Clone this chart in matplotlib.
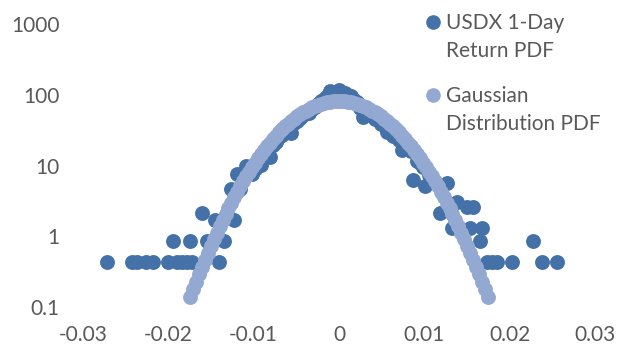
import matplotlib
matplotlib.use('Agg')
import matplotlib.pyplot as plt
import matplotlib.ticker as mticker
from matplotlib.lines import Line2D

plt.rcParams.update({
    'font.family': ['Lato', 'DejaVu Sans'],
    'font.size': 15,
    'text.color': '#595959',
    'xtick.color': '#595959',
    'ytick.color': '#595959',
})

DARK = '#4472a8'
LIGHT = '#93a9d1'

# Empirical PDF of daily USDX returns (tails are single/double counts)
usdx_x = [
    -0.0272, -0.0243, -0.0237, -0.0226, -0.0218, -0.0200, -0.0195, -0.0190,
    -0.0184, -0.0178, -0.0175, -0.0172, -0.0160, -0.0155, -0.0145, -0.0141,
    -0.0135, -0.0126, -0.01225,
    -0.0119, -0.01155, -0.0112, -0.01085, -0.0105, -0.01015, -0.0098, -0.00945,
    -0.0091, -0.00875, -0.0084, -0.00805, -0.0077, -0.00735, -0.0070, -0.00665,
    -0.0063, -0.00595, -0.0056, -0.00525, -0.0049, -0.00455, -0.0042, -0.00385,
    -0.0035, -0.00315, -0.0028, -0.00245, -0.0021, -0.00175, -0.0014, -0.00105,
    -0.0007, -0.00035, 0.0, 0.00035, 0.0007, 0.00105, 0.0014, 0.00175,
    0.0021, 0.00245, 0.0028, 0.00315, 0.0035, 0.00385, 0.0042, 0.00455,
    0.0049, 0.00525, 0.0056, 0.00595, 0.0063, 0.00665, 0.0070, 0.00735,
    0.0077, 0.00805, 0.0084, 0.00868, 0.0091, 0.00945, 0.0098, 0.0101,
    0.0105, 0.01085,
    0.01184, 0.01266, 0.01325, 0.01383, 0.0150, 0.01536, 0.0157, 0.01653,
    0.01676, 0.01735, 0.0179, 0.01852, 0.02028, 0.02274, 0.0238, 0.02556,
]
usdx_pdf = [
    0.43, 0.43, 0.43, 0.43, 0.43, 0.43, 0.86, 0.43,
    0.43, 0.43, 0.86, 0.43, 2.15, 0.86, 1.72, 0.43,
    0.86, 4.73, 1.72,
    7.7, 4.7, 6.9, 9.9, 8.6, 7.7, 9.0, 11.2,
    10.3, 13.8, 15.5, 13.3, 19.8, 21.5, 24.9, 27.1,
    30.5, 33.1, 29.2, 40.4, 43.0, 47.3, 52.0, 55.0,
    54.6, 62.3, 66.7, 74.4, 80.8, 88.5, 97.1, 112.3,
    104.5, 108.2, 115.8, 110.1, 106.7, 98.0, 96.3, 84.1,
    77.8, 64.5, 49.0, 60.2, 55.5, 54.2, 45.6, 47.7,
    38.7, 40.9, 29.7, 34.4, 26.2, 28.0, 23.2, 16.8,
    20.6, 17.2, 15.9, 6.2, 11.6, 10.8, 9.5, 5.2,
    7.3, 6.4,
    2.15, 5.6, 1.3, 3.0, 2.6, 1.3, 2.6, 0.86,
    1.3, 0.43, 0.43, 0.43, 0.43, 0.86, 0.43, 0.43,
]

# Normal PDF with the same mean and standard deviation
gauss_x = [
    -0.0175, -0.01715, -0.0168, -0.01645, -0.0161, -0.01575, -0.0154, -0.01505,
    -0.0147, -0.01435, -0.014, -0.01365, -0.0133, -0.01295, -0.0126, -0.01225,
    -0.0119, -0.01155, -0.0112, -0.01085, -0.0105, -0.01015, -0.0098, -0.00945,
    -0.0091, -0.00875, -0.0084, -0.00805, -0.0077, -0.00735, -0.007, -0.00665,
    -0.0063, -0.00595, -0.0056, -0.00525, -0.0049, -0.00455, -0.0042, -0.00385,
    -0.0035, -0.00315, -0.0028, -0.00245, -0.0021, -0.00175, -0.0014, -0.00105,
    -0.0007, -0.00035, 0.0, 0.00035, 0.0007, 0.00105, 0.0014, 0.00175,
    0.0021, 0.00245, 0.0028, 0.00315, 0.0035, 0.00385, 0.0042, 0.00455,
    0.0049, 0.00525, 0.0056, 0.00595, 0.0063, 0.00665, 0.007, 0.00735,
    0.0077, 0.00805, 0.0084, 0.00875, 0.0091, 0.00945, 0.0098, 0.01015,
    0.0105, 0.01085, 0.0112, 0.01155, 0.0119, 0.01225, 0.0126, 0.01295,
    0.0133, 0.01365, 0.014, 0.01435, 0.0147, 0.01505, 0.0154, 0.01575,
    0.0161, 0.01645, 0.0168, 0.01715, 0.0175,
]
gauss_pdf = [
    0.138, 0.178, 0.228, 0.291, 0.368, 0.465, 0.583, 0.728,
    0.904, 1.117, 1.374, 1.68, 2.05, 2.48, 2.98, 3.58,
    4.26, 5.06, 5.97, 7.01, 8.20, 9.53, 11.02, 12.68,
    14.51, 16.53, 18.73, 21.11, 23.68, 26.43, 29.34, 32.41,
    35.62, 38.94, 42.36, 45.85, 49.37, 52.89, 56.38, 59.78,
    63.07, 66.20, 69.14, 71.84, 74.26, 76.37, 78.14, 79.55,
    80.57, 81.19, 81.40, 81.19, 80.57, 79.55, 78.14, 76.37,
    74.26, 71.84, 69.14, 66.20, 63.07, 59.78, 56.38, 52.89,
    49.37, 45.85, 42.36, 38.94, 35.62, 32.41, 29.34, 26.43,
    23.68, 21.11, 18.73, 16.53, 14.51, 12.68, 11.02, 9.53,
    8.20, 7.01, 5.97, 5.06, 4.26, 3.58, 2.98, 2.48,
    2.05, 1.68, 1.374, 1.117, 0.904, 0.728, 0.583, 0.465,
    0.368, 0.291, 0.228, 0.178, 0.138,
]

legend_labels = ['USDX 1-Day\nReturn PDF', 'Gaussian\nDistribution PDF']

fig = plt.figure(figsize=(6.18, 3.47), dpi=100)
ax = fig.add_axes([83 / 618, 1 - 307 / 347, 512 / 618, 283 / 347])

ax.scatter(usdx_x, usdx_pdf, s=115, color=DARK, linewidths=0, zorder=2, clip_on=False)
ax.scatter(gauss_x, gauss_pdf, s=115, color=LIGHT, linewidths=0, zorder=3, clip_on=False)

ax.set_yscale('log')
ax.set_ylim(0.1, 1000)
ax.set_xlim(-0.03, 0.03)
ax.set_xticks([-0.03, -0.02, -0.01, 0, 0.01, 0.02, 0.03])
ax.xaxis.set_major_formatter(mticker.FuncFormatter(lambda v, p: '0' if abs(v) < 1e-12 else f'{v:g}'))
ax.yaxis.set_major_locator(mticker.FixedLocator([0.1, 1, 10, 100, 1000]))
ax.yaxis.set_minor_locator(mticker.NullLocator())
ax.yaxis.set_major_formatter(mticker.FuncFormatter(lambda v, p: f'{v:g}'))
ax.tick_params(axis='both', length=0)
ax.tick_params(axis='y', pad=17)
ax.tick_params(axis='x', pad=13)
for s in ax.spines.values():
    s.set_visible(False)

# legend drawn by hand so the marker sits on the first label line
for (yc, ytxt), col, lab in zip([(22, 37), (95, 110)], [DARK, LIGHT], legend_labels):
    fig.add_artist(Line2D([433 / 618], [1 - yc / 347], marker='o', markersize=9.5,
                          color=col, linestyle='none', transform=fig.transFigure))
    fig.text(446 / 618, 1 - ytxt / 347, lab, ha='left', va='center',
             linespacing=1.45, fontsize=15)

fig.savefig('out.png', dpi=100)
